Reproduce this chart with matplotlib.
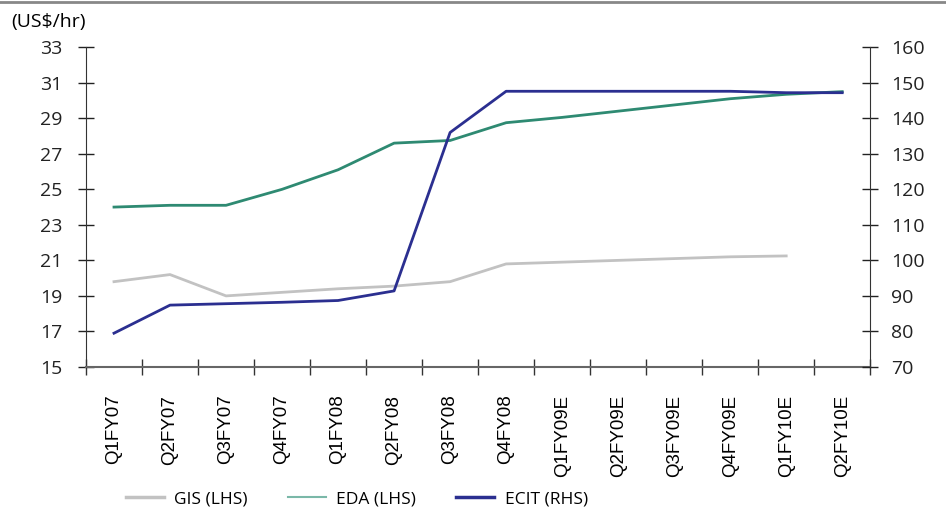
import matplotlib
matplotlib.use('Agg')
import matplotlib.pyplot as plt
from matplotlib.lines import Line2D

quarters = ['Q1FY07', 'Q2FY07', 'Q3FY07', 'Q4FY07', 'Q1FY08', 'Q2FY08', 'Q3FY08',
            'Q4FY08', 'Q1FY09E', 'Q2FY09E', 'Q3FY09E', 'Q4FY09E', 'Q1FY10E', 'Q2FY10E']
gis = [19.8, 20.2, 19.0, 19.2, 19.4, 19.55, 19.8, 20.8, 20.9, 21.0, 21.1, 21.2, 21.25]
eda = [24.0, 24.1, 24.1, 25.0, 26.1, 27.6, 27.75, 28.75, 29.05, 29.4, 29.75, 30.1, 30.35, 30.5]
ecit = [79.5, 87.4, 87.8, 88.2, 88.7, 91.4, 136.0, 147.6, 147.6, 147.6, 147.6, 147.6, 147.2, 147.2]

gis_color = '#c2c2c2'
eda_color = '#2e8a72'
ecit_color = '#2b2f90'

plt.rcParams['font.family'] = ['Open Sans', 'DejaVu Sans']
plt.rcParams['font.size'] = 14

fig = plt.figure(figsize=(9.46, 5.19), dpi=100)
ax = fig.add_axes([0.0909, 0.293, 0.829, 0.616])
ax2 = ax.twinx()

x = list(range(len(quarters)))
ax.plot(x[:len(gis)], gis, color=gis_color, lw=2, label='GIS (LHS)')
ax.plot(x, eda, color=eda_color, lw=2, label='EDA (LHS)')
ax2.plot(x, ecit, color=ecit_color, lw=2, label='ECIT (RHS)')

ax.set_xlim(-0.5, len(quarters) - 0.5)
ax.set_ylim(15, 33)
ax.set_yticks(range(15, 34, 2))
ax2.set_ylim(70, 160)
ax2.set_yticks(range(70, 161, 10))

# category labels at centres, tick marks between categories
ax.set_xticks(x)
ax.set_xticklabels(quarters, rotation=90, va='top', family='Liberation Sans')
ax.tick_params(axis='x', which='major', length=0, pad=20, labelsize=13.5)
ax.set_xticks([i - 0.5 for i in range(len(quarters) + 1)], minor=True)
ax.tick_params(axis='x', which='minor', direction='inout', length=12, width=1, color='#333333')

ax.tick_params(axis='y', direction='inout', length=12, width=1, labelsize=14, pad=11, colors='#222222')
ax2.tick_params(axis='y', direction='inout', length=12, width=1, labelsize=14, pad=9, colors='#222222')

for a in (ax, ax2):
    a.spines['top'].set_visible(False)
for s in ('left', 'bottom'):
    ax2.spines[s].set_visible(False)
ax.spines['right'].set_visible(False)
ax.spines['bottom'].set_color('#666666')
ax.spines['bottom'].set_linewidth(1.5)
ax.spines['left'].set_color('#333333')
ax2.spines['right'].set_color('#333333')

fig.text(0.012, 0.957, r'(US\$/hr)', fontsize=14, ha='left', va='center')

# legend handles as drawn in the source (EDA shown thinner and lighter)
handles = [Line2D([], [], color=gis_color, lw=2.5),
           Line2D([], [], color='#7ab8a8', lw=1.5),
           Line2D([], [], color=ecit_color, lw=2.5)]
fig.legend(handles, ['GIS (LHS)', 'EDA (LHS)', 'ECIT (RHS)'], loc='center',
           bbox_to_anchor=(0.377, 0.038), ncol=3, frameon=False, handlelength=2.2,
           handletextpad=0.6, columnspacing=2.3, fontsize=12.5)

fig.add_artist(Line2D([0, 1], [0.996, 0.996], transform=fig.transFigure, color='#888888', lw=2))

fig.savefig('out.png', dpi=100)
